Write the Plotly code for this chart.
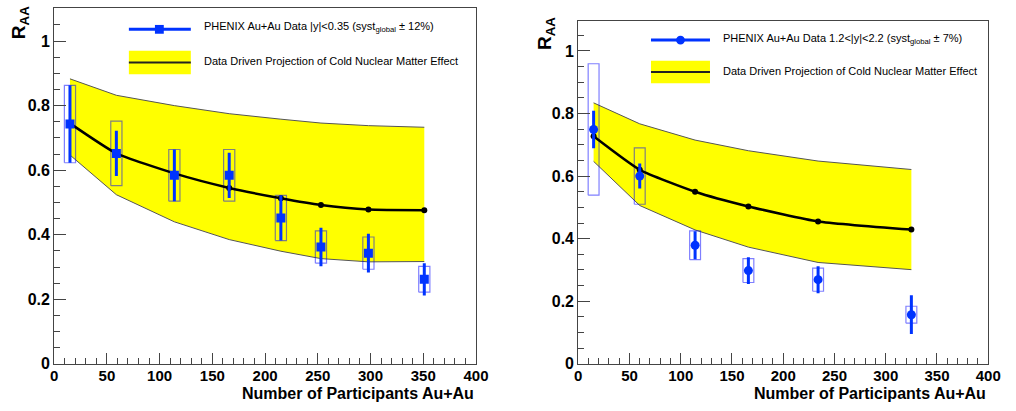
import plotly.graph_objects as go

# ---------------- data (left: |y|<0.35) ----------------
npart_L = [15, 59, 114, 166, 215, 253, 298, 351]
raa_L = [0.743, 0.652, 0.584, 0.584, 0.452, 0.362, 0.343, 0.262]
stat_L = [0.12, 0.07, 0.08, 0.07, 0.07, 0.06, 0.06, 0.05]
syst_L = [0.12, 0.10, 0.08, 0.08, 0.07, 0.05, 0.05, 0.04]
cnm_L = [0.745, 0.652, 0.59, 0.545, 0.513, 0.492, 0.478, 0.476]
cnm_hi_L = [0.883, 0.832, 0.80, 0.775, 0.758, 0.746, 0.738, 0.733]
cnm_lo_L = [0.647, 0.524, 0.44, 0.385, 0.349, 0.326, 0.316, 0.317]

# ---------------- data (right: 1.2<|y|<2.2) ----------------
npart_R = [15, 60, 114, 166, 234, 325]
raa_R = [0.749, 0.60, 0.379, 0.298, 0.269, 0.157]
stat_R = [0.06, 0.04, 0.045, 0.043, 0.043, 0.062]
syst_R = [0.21, 0.09, 0.046, 0.038, 0.037, 0.027]
cnm_R = [0.727, 0.62, 0.55, 0.503, 0.455, 0.429]
cnm_hi_R = [0.834, 0.767, 0.715, 0.681, 0.648, 0.621]
cnm_lo_R = [0.647, 0.506, 0.428, 0.373, 0.324, 0.301]

y_ticks = [0, 0.2, 0.4, 0.6, 0.8, 1]
x_ticks = [0, 50, 100, 150, 200, 250, 300, 350, 400]

label_L = "PHENIX Au+Au Data |y|<0.35 (syst<sub>global</sub> ± 12%)"
label_R = "PHENIX Au+Au Data 1.2<|y|<2.2 (syst<sub>global</sub> ± 7%)"
label_cnm = "Data Driven Projection of Cold Nuclear Matter Effect"
xtitle = "Number of Participants Au+Au"

# ---------------- styles ----------------
W, H = 1016, 411
BLUE = "#0033ff"
BOXC = "rgba(0,0,255,0.5)"
YEL = "#ffff00"
FONT = "Liberation Sans, Arial, sans-serif"
BOX_HW = 5.3

fig = go.Figure()


def add_panel(xa, ya, npart, raa, stat, syst, cnm, hi, lo, symbol):
    # yellow band
    fig.add_trace(go.Scatter(x=npart + npart[::-1], y=hi + lo[::-1], fill="toself",
                             fillcolor=YEL, line=dict(width=0), mode="lines",
                             xaxis=xa, yaxis=ya, showlegend=False, hoverinfo="skip"))
    for edge in (hi, lo):
        fig.add_trace(go.Scatter(x=npart, y=edge, mode="lines",
                                 line=dict(color="#555555", width=1),
                                 xaxis=xa, yaxis=ya, showlegend=False, hoverinfo="skip"))
    # systematic boxes
    bx, by = [], []
    for x, y, s in zip(npart, raa, syst):
        bx += [x - BOX_HW, x + BOX_HW, x + BOX_HW, x - BOX_HW, x - BOX_HW, None]
        by += [y - s, y - s, y + s, y + s, y - s, None]
    fig.add_trace(go.Scatter(x=bx, y=by, mode="lines", line=dict(color=BOXC, width=1.2),
                             xaxis=xa, yaxis=ya, showlegend=False, hoverinfo="skip"))
    # CNM projection
    fig.add_trace(go.Scatter(x=npart, y=cnm, mode="lines+markers",
                             line=dict(color="black", width=2.5, shape="spline", smoothing=0.5),
                             marker=dict(color="black", size=6),
                             xaxis=xa, yaxis=ya, showlegend=False))
    # data
    fig.add_trace(go.Scatter(x=npart, y=raa, mode="markers",
                             marker=dict(color=BLUE, size=9, symbol=symbol),
                             error_y=dict(type="data", array=stat, color=BLUE, thickness=3, width=0),
                             xaxis=xa, yaxis=ya, showlegend=False))


add_panel("x", "y", npart_L, raa_L, stat_L, syst_L, cnm_L, cnm_hi_L, cnm_lo_L, "square")
add_panel("x2", "y2", npart_R, raa_R, stat_R, syst_R, cnm_R, cnm_hi_R, cnm_lo_R, "circle")


def px(x):
    return x / W


def py(y):
    return 1 - y / H


axis_common = dict(showgrid=False, zeroline=False, showline=True, mirror=True,
                   linecolor="#444444", linewidth=1, ticks="inside", tickcolor="#444444")
xfont = dict(family=FONT, size=15, color="black", weight="bold")
yfont = dict(family=FONT, size=16, color="black", weight="bold")
xminor = dict(dtick=10, tick0=0, ticklen=6, ticks="inside", tickcolor="#444444")
yminor = dict(dtick=0.05, tick0=0, ticklen=6, ticks="inside", tickcolor="#444444")

fig.update_layout(
    width=W, height=H, autosize=False, margin=dict(l=0, r=0, t=0, b=0),
    paper_bgcolor="white", plot_bgcolor="white", showlegend=False,
    xaxis=dict(domain=[px(51), px(480)], range=[0, 400], anchor="y", tickvals=x_ticks,
               ticklen=11, minor=xminor, tickfont=xfont, ticklabelstandoff=-2, **axis_common),
    yaxis=dict(domain=[py(372), py(8)], range=[0, 1.103], anchor="x", tickvals=y_ticks,
               ticklen=12, minor=yminor, tickfont=yfont, **axis_common),
    xaxis2=dict(domain=[px(584), px(1001)], range=[0, 400], anchor="y2", tickvals=x_ticks,
                ticklen=11, minor=xminor, tickfont=xfont, ticklabelstandoff=-2, **axis_common),
    yaxis2=dict(domain=[py(372), py(21)], range=[0, 1.097], anchor="x2", tickvals=y_ticks,
                ticklen=12, minor=yminor, tickfont=yfont, **axis_common),
)

shapes = []
annos = []


def legend(x0, x1, yline, mx, symbol, ybox0, ybox1, ytxt1, ytxt2, label):
    shapes.append(dict(type="line", xref="paper", yref="paper", x0=px(x0), x1=px(x1),
                       y0=py(yline), y1=py(yline), line=dict(color=BLUE, width=3)))
    shp = "rect" if symbol == "square" else "circle"
    shapes.append(dict(type=shp, xref="paper", yref="paper", x0=px(mx - 4.5), x1=px(mx + 4.5),
                       y0=py(yline + 4.5), y1=py(yline - 4.5), fillcolor=BLUE, line=dict(width=0)))
    shapes.append(dict(type="rect", xref="paper", yref="paper", x0=px(x0), x1=px(x1),
                       y0=py(ybox1), y1=py(ybox0), fillcolor=YEL, line=dict(width=0)))
    ym = (ybox0 + ybox1) / 2
    shapes.append(dict(type="line", xref="paper", yref="paper", x0=px(x0), x1=px(x1),
                       y0=py(ym), y1=py(ym), line=dict(color="#222222", width=2)))
    annos.append(dict(xref="paper", yref="paper", x=px(x1 + 11), y=py(ytxt1), xanchor="left",
                      yanchor="middle", text=label, showarrow=False,
                      font=dict(family=FONT, size=11, color="black")))
    annos.append(dict(xref="paper", yref="paper", x=px(x1 + 11), y=py(ytxt2), xanchor="left",
                      yanchor="middle", text=label_cnm, showarrow=False,
                      font=dict(family=FONT, size=11, color="black")))


legend(127, 190, 30, 158, "square", 52, 76, 28, 62.5, label_L)
legend(658, 718, 41, 688, "circle", 62, 85, 39.5, 73, label_R)

# axis titles
for xr, ycen in ((480, 402), (1001, 402)):
    annos.append(dict(xref="paper", yref="paper", x=px(xr), y=py(ycen), xanchor="right",
                      yanchor="middle", text=xtitle, showarrow=False,
                      font=dict(family=FONT, size=16, color="black", weight="bold")))
for xc, yc in ((17, 23), (551, 34)):
    annos.append(dict(xref="paper", yref="paper", x=px(xc), y=py(yc), xanchor="center",
                      yanchor="middle", text="R<sub>AA</sub>", textangle=-90, showarrow=False,
                      font=dict(family=FONT, size=19, color="black", weight="bold")))

fig.update_layout(shapes=shapes, annotations=annos)

fig.write_html("out.html", config={"displayModeBar": False},
               post_script="document.body.style.margin='0';")
